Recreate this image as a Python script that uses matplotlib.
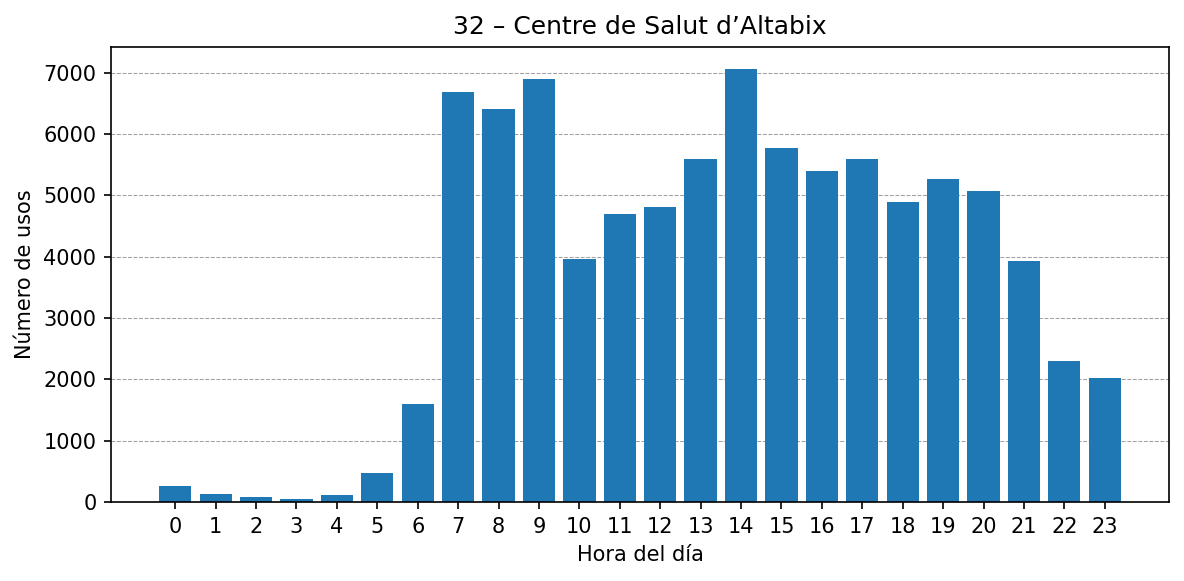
import numpy as np
import matplotlib.pyplot as plt

# Datos: usos por hora del día
horas = list(range(24))
usos = [255, 125, 77, 44, 109, 467, 1600, 6690, 6414, 6902, 3956, 4688,
        4802, 5600, 7065, 5779, 5404, 5600, 4884, 5258, 5063, 3923, 2295, 2018]

fig, ax = plt.subplots(figsize=(1184/150, 581/150), dpi=150)
ax.bar(horas, usos, color='#1f77b4')
ax.set_xticks(horas)
ax.set_title("32 \u2013 Centre de Salut d\u2019Altabix")
ax.set_xlabel("Hora del día")
ax.set_ylabel("Número de usos")
ax.grid(axis='y', linestyle='--', linewidth=0.5, color='#a0a0a0')
ax.set_axisbelow(True)
plt.subplots_adjust(left=111/1184, right=1169/1184, top=1-47/581, bottom=1-502/581)
plt.savefig("out.png", dpi=150)
